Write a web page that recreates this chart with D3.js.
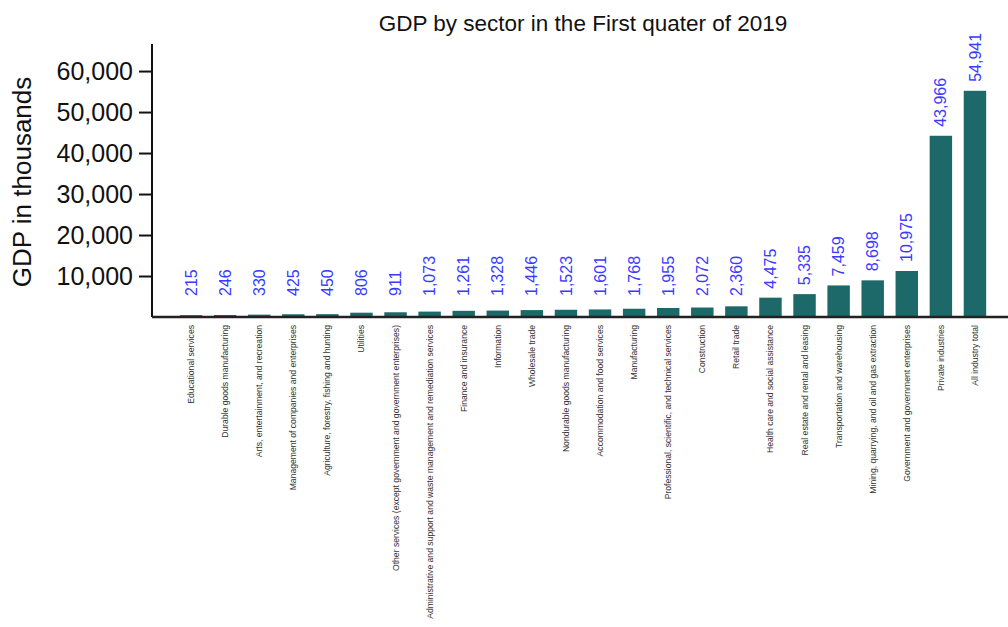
<!DOCTYPE html>
<html>
<head>
<meta charset="utf-8">
<script src="https://cdn.jsdelivr.net/npm/d3@7"></script>
<style>
  body { margin: 0; background: #fff; }
  svg { font-family: Arial, "Liberation Sans", sans-serif; }
</style>
</head>
<body>
<svg id="chart" width="1008" height="627"></svg>
<script>
const categories = [
  "Educational services",
  "Durable goods manufacturing",
  "Arts, entertainment, and recreation",
  "Management of companies and enterprises",
  "Agriculture, forestry, fishing and hunting",
  "Utilities",
  "Other services (except government and government enterprises)",
  "Administrative and support and waste management and remediation services",
  "Finance and insurance",
  "Information",
  "Wholesale trade",
  "Nondurable goods manufacturing",
  "Accommodation and food services",
  "Manufacturing",
  "Professional, scientific, and technical services",
  "Construction",
  "Retail trade",
  "Health care and social assistance",
  "Real estate and rental and leasing",
  "Transportation and warehousing",
  "Mining, quarrying, and oil and gas extraction",
  "Government and government enterprises",
  "Private industries",
  "All industry total"
];
const values = [215, 246, 330, 425, 450, 806, 911, 1073, 1261, 1328, 1446, 1523,
  1601, 1768, 1955, 2072, 2360, 4475, 5335, 7459, 8698, 10975, 43966, 54941];
const yTicks = [10000, 20000, 30000, 40000, 50000, 60000];

const data = categories.map((c, i) => ({name: c, value: values[i]}));

const svg = d3.select('#chart');
const marginLeft = 152, baseY = 317, topY = 44;

const x = d3.scaleBand()
  .domain(categories)
  .range([174, 992])
  .paddingInner(0.4)
  .paddingOuter(0.2);

const y = d3.scaleLinear()
  .domain([0, 66600])
  .range([baseY, topY]);

// title
svg.append('text')
  .attr('x', 583).attr('y', 31)
  .attr('text-anchor', 'middle')
  .attr('font-size', 22.5)
  .attr('fill', '#111')
  .text('GDP by sector in the First quater of 2019');

// bars
svg.selectAll('.bar').data(data).enter().append('rect')
  .attr('class', 'bar')
  .attr('x', d => x(d.name))
  .attr('y', d => y(d.value))
  .attr('width', x.bandwidth())
  .attr('height', d => baseY - y(d.value))
  .attr('fill', '#1d6969')
  .attr('stroke', '#1d6969')
  .attr('stroke-width', 2);

// value labels
svg.selectAll('.val').data(data).enter().append('text')
  .attr('class', 'val')
  .attr('transform', d => `translate(${x(d.name) + x.bandwidth() / 2}, ${Math.min(y(d.value) - 10, baseY - 21)}) rotate(-90)`)
  .attr('dy', '0.35em')
  .attr('font-size', 16)
  .attr('fill', '#3a3aff')
  .text(d => d3.format(',')(d.value));

// y axis
const yAxis = svg.append('g')
  .attr('transform', `translate(${marginLeft},0)`)
  .call(d3.axisLeft(y).tickValues(yTicks).tickSize(13).tickPadding(6).tickFormat(d3.format(',')));
yAxis.select('.domain').remove();
yAxis.selectAll('.tick line').attr('stroke', '#111').attr('stroke-width', 2);
yAxis.selectAll('.tick text').attr('font-size', 25).attr('fill', '#111')
  .attr('font-family', 'Arial, "Liberation Sans", sans-serif');
yAxis.append('line')
  .attr('x1', 0).attr('x2', 0)
  .attr('y1', topY).attr('y2', baseY)
  .attr('stroke', '#111').attr('stroke-width', 2);

// x axis line
svg.append('line')
  .attr('x1', marginLeft).attr('x2', 1008)
  .attr('y1', baseY).attr('y2', baseY)
  .attr('stroke', '#222').attr('stroke-width', 2.5);

// category labels
svg.selectAll('.cat').data(data).enter().append('text')
  .attr('class', 'cat')
  .attr('transform', d => `translate(${x(d.name) + x.bandwidth() / 2}, ${baseY + 8}) rotate(-90)`)
  .attr('text-anchor', 'end')
  .attr('dy', '0.35em')
  .attr('font-size', 8.6)
  .attr('fill', '#333')
  .text(d => d.name);

// y label
svg.append('text')
  .attr('transform', 'translate(22, 182) rotate(-90)')
  .attr('text-anchor', 'middle')
  .attr('dy', '0.35em')
  .attr('font-size', 26)
  .attr('fill', '#111')
  .text('GDP in thousands');
</script>
</body>
</html>
